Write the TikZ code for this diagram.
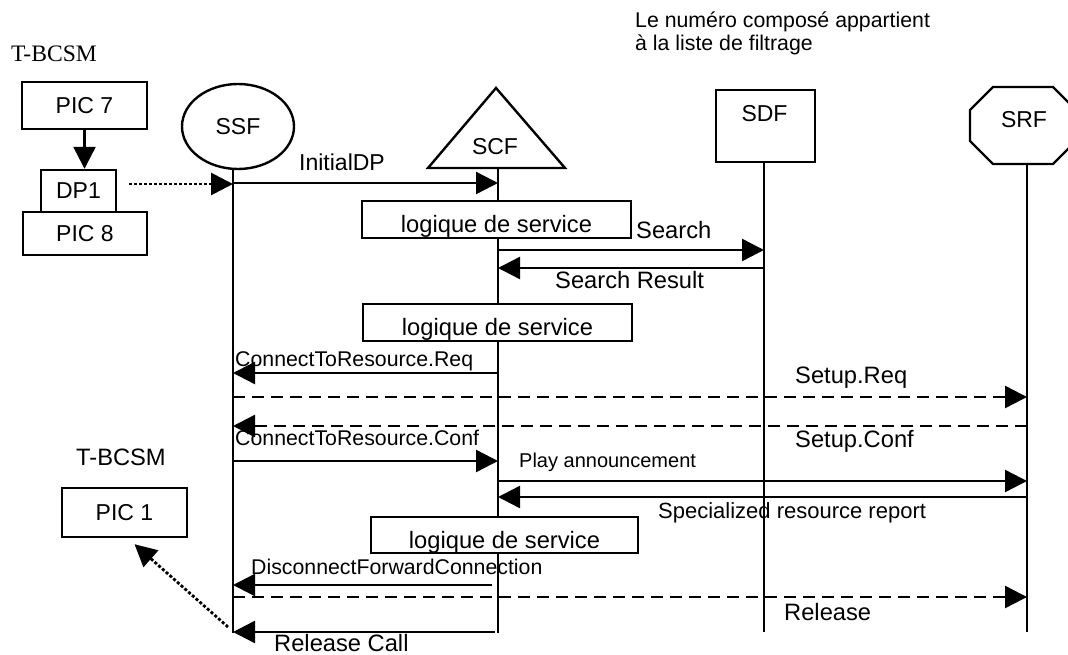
\documentclass[tikz,border=0pt]{standalone}
\usepackage{fontspec}
\setmainfont{Liberation Sans}
\newfontfamily\timesfont{Liberation Serif}
\usepackage{tikz}
\usetikzlibrary{arrows.meta,shapes.geometric}

\begin{document}
\begin{tikzpicture}[x=1pt, y=-1pt, line width=2.4pt,
		bigfont/.style={font=\fontsize{23.7}{26}\selectfont},
		midfont/.style={font=\fontsize{21.3}{24}\selectfont},
		entfont/.style={font=\fontsize{23}{26}\selectfont},
		lbl/.style={inner sep=0pt, anchor=base west},
		block/.style={draw, entfont, inner sep=0pt},
		logic/.style={draw, fill=white, bigfont, inner sep=0pt, text height=31.5pt, text depth=5pt},
		msg/.style={-{Triangle[length=22pt,width=22pt]}},
		dashmsg/.style={msg, dash pattern=on 12pt off 7pt},
		dotmsg/.style={msg, line width=2.8pt, dash pattern=on 3pt off 2pt}]
	\useasboundingbox (0,0) rectangle (1068,655);

	% T-BCSM, upper left
	\node [lbl, font=\timesfont\fontsize{23.6}{26}\selectfont] (tbcsm) at (10,62) {T-BCSM};
	\node [block, minimum width=125pt, minimum height=47pt] (pic7) at (84.5,105.5) {PIC 7};
	\node [block, minimum width=75pt, minimum height=42pt] (dp1) at (78.5,191) {DP1};
	\node [block, minimum width=124pt, minimum height=43pt] (pic8) at (85,233.5) {PIC 8};
	\draw [msg] (pic7.south) -- (pic7.south |- dp1.north);

	% entities
	\node [block, ellipse, minimum width=112pt, minimum height=85pt] (ssf) at (238,126.5) {SSF};
	\draw (428,168) -- (496,88) -- (565,168) -- cycle;
	\node [entfont] (scf) at (495,147) {SCF};
	\node [draw, minimum width=99pt, minimum height=72pt] (sdf) at (765.5,126) {};
	\node [entfont] (sdflabel) at (764.5,114) {SDF};
	\draw (993,87) -- (1053,87) -- (1076,110) -- (1076,141) -- (1053,164) -- (993,164) -- (970,141) -- (970,110) -- cycle;
	\node [entfont] (srf) at (1024,120) {SRF};

	\node [lbl, midfont] (note1) at (634,28) {Le numéro composé appartient};
	\node [lbl, midfont] (note2) at (634,51) {à la liste de filtrage};

	% lifelines
	\coordinate (ssftop) at (233,169); \coordinate (ssfbot) at (233,633);
	\coordinate (scftop) at (498,168); \coordinate (scfbot) at (498,633);
	\coordinate (sdftop) at (764,162); \coordinate (sdfbot) at (764,632);
	\coordinate (srftop) at (1027,164); \coordinate (srfbot) at (1027,632);
	\draw (ssftop) -- (ssfbot);
	\draw (scftop) -- (scfbot);
	\draw (sdftop) -- (sdfbot);
	\draw (srftop) -- (srfbot);

	% messages
	\coordinate (dpout) at (129,184);
	\draw [dotmsg] (dpout) -- (ssftop |- dpout);
	\draw [msg] (ssftop |- 0,183) -- (scftop |- 0,183);
	\node [lbl, font=\fontsize{23}{26}\selectfont] (initdp) at (298,171) {InitialDP};

	\node [logic, minimum width=269pt] (ls1) at (496.5,219.5) {logique de service};
	\draw [msg] (scftop |- 0,250) -- (sdftop |- 0,250);
	\node [lbl, bigfont] (search) at (635,239) {Search};
	\draw [msg] (sdftop |- 0,268) -- (scftop |- 0,268);
	\node [lbl, bigfont] (searchres) at (554,288) {Search Result};

	\node [logic, minimum width=269pt] (ls2) at (497.5,322.5) {logique de service};
	\draw [msg] (scftop |- 0,373) -- (ssftop |- 0,373);
	\node [lbl, midfont] (ctrreq) at (234,366) {ConnectToResource.Req};
	\draw [dashmsg] (ssftop |- 0,397) -- (srftop |- 0,397);
	\node [lbl, bigfont] (setupreq) at (794,383) {Setup.Req};
	\draw [dashmsg] (srftop |- 0,426) -- (ssftop |- 0,426);
	\node [lbl, bigfont] (setupconf) at (794,447) {Setup.Conf};
	\draw [msg] (ssftop |- 0,461) -- (scftop |- 0,461);
	\node [lbl, midfont] (ctrconf) at (234,445) {ConnectToResource.Conf};
	\draw [msg] (scftop |- 0,481) -- (srftop |- 0,481);
	\node [lbl, font=\fontsize{20}{22}\selectfont] (play) at (518,467) {Play announcement};
	\draw [msg] (srftop |- 0,497) -- (scftop |- 0,497);
	\node [lbl, font=\fontsize{22}{24}\selectfont] (srr) at (657,518) {Specialized resource report};

	\node [logic, minimum width=267pt] (ls3) at (504.5,535) {logique de service};
	\draw [msg] ([xshift=-6pt]scftop |- 0,585) -- (ssftop |- 0,585);
	\node [lbl, midfont] (dfc) at (250,574) {DisconnectForwardConnection};
	\draw [dashmsg] (ssftop |- 0,597) -- (srftop |- 0,597);
	\node [lbl, bigfont] (release) at (783,620) {Release};
	\draw [msg] ([xshift=-3pt]scftop |- 0,632) -- (ssftop |- 0,632);
	\node [lbl, bigfont] (relcall) at (273,651) {Release Call};

	% T-BCSM, lower left
	\node [lbl, bigfont] (tbcsm2) at (75,465) {T-BCSM};
	\node [block, minimum width=125pt, minimum height=49pt] (pic1) at (124.5,512.5) {PIC 1};
	\coordinate (relout) at (228,627);
	\draw [dotmsg] (relout) -- ([xshift=10pt,yshift=-6pt]pic1.south);
\end{tikzpicture}
\end{document}
